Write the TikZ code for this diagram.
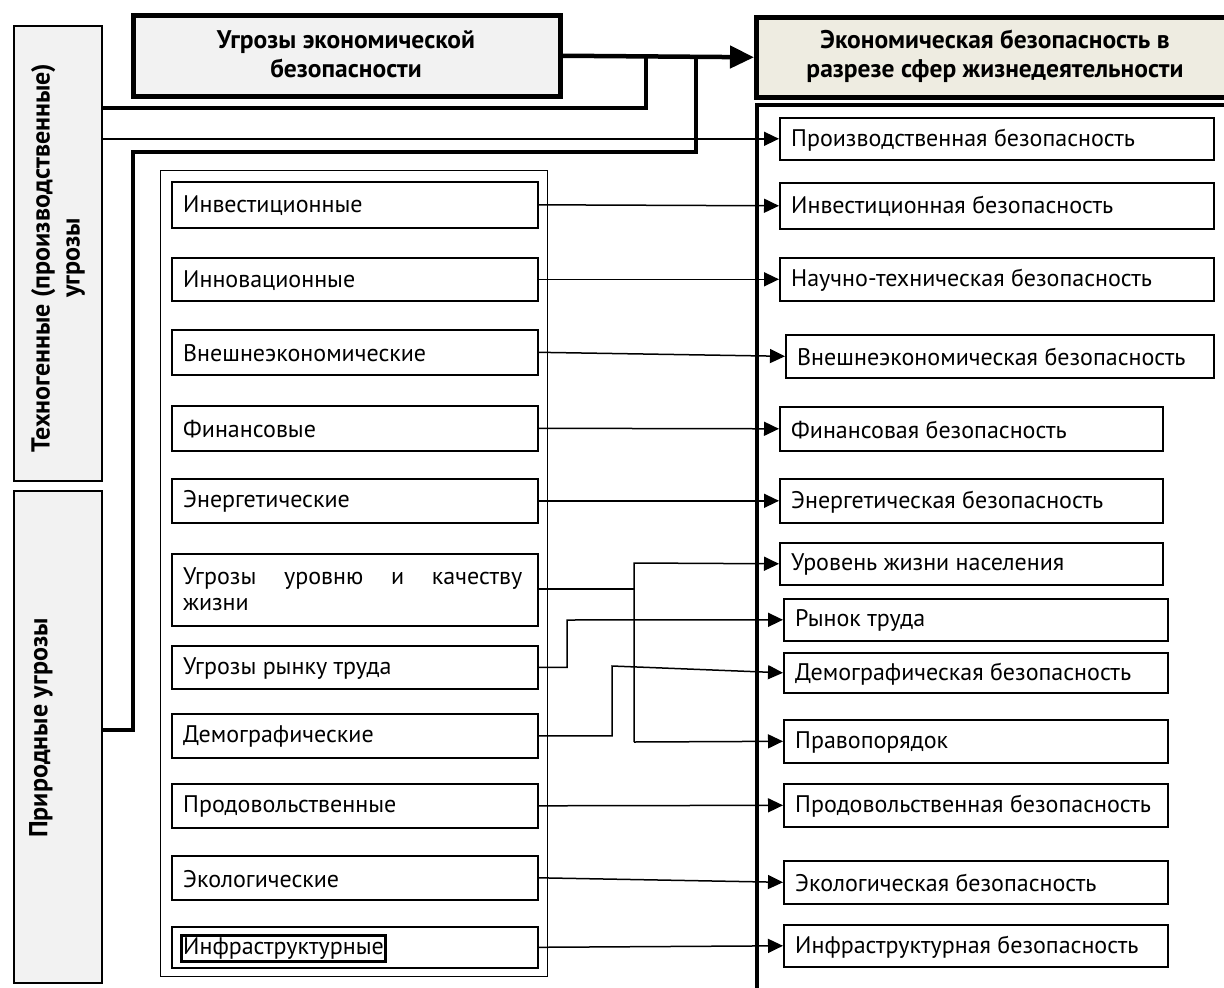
\documentclass[tikz,border=0pt]{standalone}
\usepackage{fontspec}
\setmainfont{PT Sans}
\usetikzlibrary{arrows.meta}
\begin{document}
\begin{tikzpicture}[x=1pt,y=-1pt,
  box/.style={draw, line width=1.6pt, fill=white, inner sep=0pt},
  lbl/.style={font=\fontsize{24}{26}\selectfont, anchor=west, inner sep=0pt},
  hdr/.style={font=\bfseries\fontsize{25.5}{29}\selectfont, align=center, inner sep=0pt},
  arr/.style={line width=1.5pt, -{Triangle[length=15pt,width=14pt]}},
  ln/.style={line width=1.5pt},
  thk/.style={line width=4.5pt},
]
\clip (0,0) rectangle (1224,988);
\fill[white] (0,0) rectangle (1224,988);
\newcommand\lbox[6]{%
  \node[box, minimum width=#4pt, minimum height=#5pt, anchor=north west] (#1) at (#2,#3) {};
  \node[lbl] (#1t) at ([xshift=12pt,yshift=-1pt]#1.west) {#6};}

% left vertical category boxes
\node[draw, line width=1.6pt, fill=black!5, minimum width=88pt, minimum height=455pt, anchor=north west] (tech) at (13,25) {};
\node[hdr, rotate=90, font=\bfseries\fontsize{26}{30}\selectfont] (techt) at (58,258) {Техногенные (производственные)\\угрозы};
\node[draw, line width=1.6pt, fill=black!5, minimum width=88pt, minimum height=492pt, anchor=north west] (nat) at (13,490) {};
\node[hdr, rotate=90, font=\bfseries\fontsize{26}{30}\selectfont] (natt) at (41,728) {Природные угрозы};

% header boxes
\node[draw, line width=4.5pt, fill=black!5, minimum width=427pt, minimum height=81pt, anchor=north west] (top) at (131,13) {};
\node[hdr] (topt) at (346,54) {Угрозы экономической\\безопасности};
\node[draw, line width=4.5pt, fill={rgb,255:red,238;green,236;blue,225}, minimum width=490pt, minimum height=80pt, anchor=north west] (eco) at (754,15) {};
\node[hdr] (ecot) at (995,56) {Экономическая безопасность в\\разрезе сфер жизнедеятельности};

% container of threats
\node[draw, line width=1.2pt, minimum width=387pt, minimum height=806pt, anchor=north west] (cont) at (160,170) {};

% right container lines
\coordinate (rc1) at (757,988);
\coordinate (rc2) at (757,105);
\coordinate (rc3) at (1224,105);
\draw[thk] (rc1) -- (rc2) -- (rc3);

% left boxes
\lbox{l1}{171}{181}{366}{46}{Инвестиционные}
\lbox{l2}{171}{257}{366}{43}{Инновационные}
\lbox{l3}{171}{329}{366}{45}{Внешнеэкономические}
\lbox{l4}{171}{405}{366}{45}{Финансовые}
\lbox{l5}{171}{478}{366}{44}{Энергетические}
\node[box, minimum width=366pt, minimum height=72pt, anchor=north west] (l6) at (171,553) {};
\node[lbl, align=left, anchor=north west] (l6t) at (183,567) {\makebox[339pt][s]{Угрозы\hfill уровню\hfill и\hfill качеству}\\жизни};
\lbox{l7}{171}{645}{366}{43}{Угрозы рынку труда}
\lbox{l8}{171}{713}{366}{44}{Демографические}
\lbox{l9}{171}{783}{366}{44}{Продовольственные}
\lbox{l10}{171}{855}{366}{44}{Экологические}
\lbox{l11}{171}{926}{366}{41}{Инфраструктурные}
\draw[line width=3pt] ([xshift=-2pt,yshift=-2pt]l11t.south west) rectangle ([xshift=2pt,yshift=2pt]l11t.north east);

% right boxes
\lbox{r1}{779}{117}{434}{42}{Производственная безопасность}
\lbox{r2}{779}{182}{434}{46}{Инвестиционная безопасность}
\lbox{r3}{779}{257}{434}{43}{Научно-техническая безопасность}
\lbox{r4}{785}{334}{428}{43}{Внешнеэкономическая безопасность}
\lbox{r5}{779}{406}{383}{44}{Финансовая безопасность}
\lbox{r6}{779}{478}{383}{44}{Энергетическая безопасность}
\lbox{r7}{779}{542}{383}{42}{Уровень жизни населения}
\lbox{r8}{783}{598}{384}{42}{Рынок труда}
\lbox{r9}{783}{652}{384}{40}{Демографическая безопасность}
\lbox{r10}{783}{719}{384}{43}{Правопорядок}
\lbox{r11}{783}{783}{384}{43}{Продовольственная безопасность}
\lbox{r12}{783}{860}{384}{43}{Экологическая безопасность}
\lbox{r13}{783}{924}{384}{42}{Инфраструктурная безопасность}

% thick connector lines from header
\draw[thk, -{Triangle[length=24pt,width=22pt]}] (top.east) -- (eco.west);
\coordinate (j1) at (646,55);
\coordinate (j2) at (646,108);
\coordinate (j3) at (101,108);
\draw[thk] (j1) -- (j2) -- (j3);
\coordinate (k1) at (696,55);
\coordinate (k2) at (696,152);
\coordinate (k3) at (133,152);
\coordinate (k4) at (133,730);
\coordinate (k5) at (101,730);
\draw[thk] (k1) -- (k2) -- (k3) -- (k4) -- (k5);
\draw[arr] (tech.east |- r1.west) -- (r1.west);

% arrows
\draw[arr] (l1.east) -- (r2.west);
\draw[arr] (l2.east) -- (r3.west);
\draw[arr] (l3.east) -- (r4.west);
\draw[arr] (l4.east) -- (r5.west);
\draw[arr] (l5.east) -- (r6.west);
\coordinate (m6) at (634,589);
\draw[ln] (l6.east |- m6) -- (m6);
\draw[arr] (634,742) -- (634,563) -- (r7.west);
\draw[arr] (634,742) -- (r10.west);
\draw[arr] (l7.east) -| (567,620) -- (r8.west);
\draw[arr] (l8.east) -| (612,666) -- (r9.west);
\draw[arr] (l9.east) -- (r11.west);
\draw[arr] (l10.east) -- (r12.west);
\draw[arr] (l11.east) -- (r13.west);
\end{tikzpicture}
\end{document}
